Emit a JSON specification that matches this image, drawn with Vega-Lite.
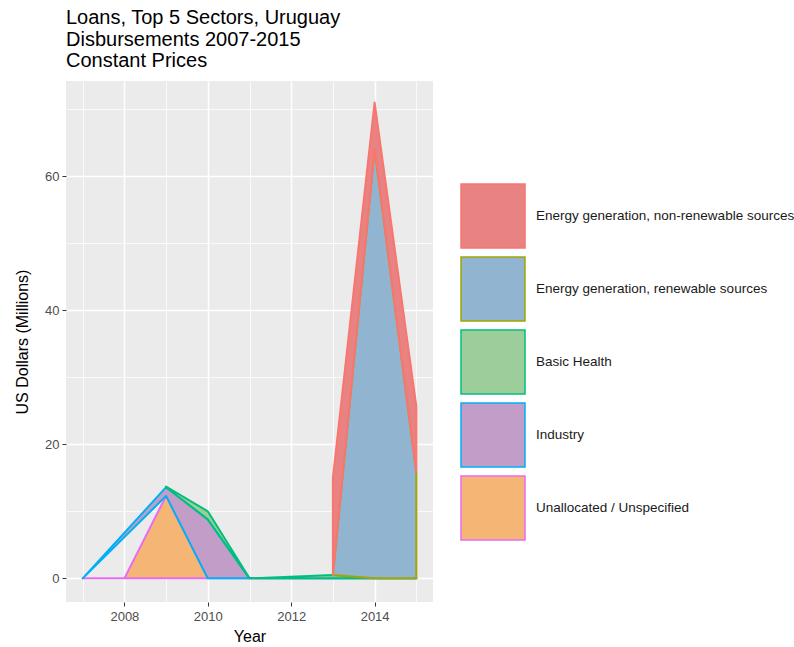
{
  "$schema": "https://vega.github.io/schema/vega-lite/v6.json",
  "width": 367,
  "height": 521,
  "autosize": "none",
  "padding": {"left": 66, "top": 81, "right": 361, "bottom": 45},
  "config": {
    "view": {"fill": "#EBEBEB", "stroke": null},
    "font": "Liberation Sans"
  },
  "title": {
    "text": ["Loans, Top 5 Sectors, Uruguay", "Disbursements 2007-2015", "Constant Prices"],
    "anchor": "start",
    "frame": "group",
    "fontSize": 20,
    "fontWeight": "normal",
    "lineHeight": 21.5,
    "color": "#000000",
    "offset": 10
  },
  "data": {
    "values": [
      {"sector": "Unallocated / Unspecified", "rank": 1, "year": 2007, "value": 0},
      {"sector": "Unallocated / Unspecified", "rank": 1, "year": 2008, "value": 0},
      {"sector": "Unallocated / Unspecified", "rank": 1, "year": 2009, "value": 12.3},
      {"sector": "Unallocated / Unspecified", "rank": 1, "year": 2010, "value": 0},
      {"sector": "Unallocated / Unspecified", "rank": 1, "year": 2011, "value": 0},
      {"sector": "Unallocated / Unspecified", "rank": 1, "year": 2013, "value": 0},
      {"sector": "Unallocated / Unspecified", "rank": 1, "year": 2014, "value": 0},
      {"sector": "Unallocated / Unspecified", "rank": 1, "year": 2015, "value": 0},
      {"sector": "Industry", "rank": 2, "year": 2007, "value": 0},
      {"sector": "Industry", "rank": 2, "year": 2009, "value": 1.3},
      {"sector": "Industry", "rank": 2, "year": 2010, "value": 8.8},
      {"sector": "Industry", "rank": 2, "year": 2011, "value": 0},
      {"sector": "Industry", "rank": 2, "year": 2013, "value": 0},
      {"sector": "Industry", "rank": 2, "year": 2014, "value": 0},
      {"sector": "Industry", "rank": 2, "year": 2015, "value": 0},
      {"sector": "Basic Health", "rank": 3, "year": 2009, "value": 0.1},
      {"sector": "Basic Health", "rank": 3, "year": 2010, "value": 1.2},
      {"sector": "Basic Health", "rank": 3, "year": 2011, "value": 0},
      {"sector": "Basic Health", "rank": 3, "year": 2013, "value": 0.5},
      {"sector": "Basic Health", "rank": 3, "year": 2014, "value": 0},
      {"sector": "Basic Health", "rank": 3, "year": 2015, "value": 0},
      {"sector": "Energy generation, renewable sources", "rank": 4, "year": 2013, "value": 0},
      {"sector": "Energy generation, renewable sources", "rank": 4, "year": 2014, "value": 64.0},
      {"sector": "Energy generation, renewable sources", "rank": 4, "year": 2015, "value": 15.8},
      {"sector": "Energy generation, non-renewable sources", "rank": 5, "year": 2013, "value": 14.5},
      {"sector": "Energy generation, non-renewable sources", "rank": 5, "year": 2014, "value": 7.0},
      {"sector": "Energy generation, non-renewable sources", "rank": 5, "year": 2015, "value": 9.9}
    ]
  },
  "layer": [
    {
      "transform": [
        {"stack": "value", "groupby": ["year"], "sort": [{"field": "rank", "order": "ascending"}], "as": ["base", "top"]}
      ],
      "mark": {"type": "area", "strokeWidth": 2, "interpolate": "linear", "strokeJoin": "round"},
      "encoding": {
        "x": {
          "field": "year", "type": "quantitative",
          "scale": {"domain": [2006.6, 2015.4], "nice": false, "zero": false},
          "axis": {
            "values": [2008, 2010, 2012, 2014], "format": "d",
            "labelFontSize": 13, "labelColor": "#4D4D4D", "labelPadding": 4,
            "tickColor": "#333333", "tickSize": 4, "domain": false,
            "grid": true, "gridColor": "#FFFFFF", "gridWidth": 1.5,
            "title": "Year", "titleFontSize": 16, "titleFontWeight": "normal", "titleColor": "#000000", "titlePadding": 5
          }
        },
        "y": {
          "field": "top", "type": "quantitative", "stack": null,
          "scale": {"domain": [-3.53, 74.2], "nice": false, "zero": false},
          "axis": {
            "values": [0, 20, 40, 60],
            "labelFontSize": 13, "labelColor": "#4D4D4D", "labelPadding": 3,
            "tickColor": "#333333", "tickSize": 4, "domain": false,
            "grid": true, "gridColor": "#FFFFFF", "gridWidth": 1.5,
            "title": "US Dollars (Millions)", "titleFontSize": 16, "titleFontWeight": "normal", "titleColor": "#000000", "titlePadding": 14
          }
        },
        "y2": {"field": "base"},
        "fill": {
          "field": "sector", "type": "nominal",
          "scale": {
            "domain": ["Energy generation, non-renewable sources", "Energy generation, renewable sources", "Basic Health", "Industry", "Unallocated / Unspecified"],
            "range": ["#E88283", "#91B4D1", "#9CCD9A", "#C29DC7", "#F5B575"]
          },
          "legend": {
            "title": null, "orient": "none", "legendX": 394, "legendY": 102,
            "symbolType": "square", "symbolSize": 4096, "symbolStrokeWidth": 1.5,
            "labelFontSize": 13.5, "labelColor": "#1A1A1A", "labelOffset": 10, "rowPadding": 3, "labelLimit": 400
          }
        },
        "stroke": {
          "field": "sector", "type": "nominal",
          "scale": {
            "domain": ["Energy generation, non-renewable sources", "Energy generation, renewable sources", "Basic Health", "Industry", "Unallocated / Unspecified"],
            "range": ["#F8766D", "#A3A500", "#00BF7D", "#00B0F6", "#E76BF3"]
          },
          "legend": {
            "title": null, "orient": "none", "legendX": 394, "legendY": 102,
            "symbolType": "square", "symbolSize": 4096, "symbolStrokeWidth": 1.5,
            "labelFontSize": 13.5, "labelColor": "#1A1A1A", "labelOffset": 10, "rowPadding": 3, "labelLimit": 400
          }
        }
      }
    },
    {
      "mark": {"type": "point", "opacity": 0},
      "encoding": {
        "x": {
          "field": "year", "type": "quantitative",
          "axis": {"orient": "top", "values": [2007, 2009, 2011, 2013, 2015], "labels": false, "ticks": false, "domain": false, "grid": true, "gridColor": "#FFFFFF", "gridWidth": 0.75, "title": null}
        },
        "y": {
          "field": "value", "type": "quantitative",
          "axis": {"orient": "right", "values": [10, 30, 50, 70], "labels": false, "ticks": false, "domain": false, "grid": true, "gridColor": "#FFFFFF", "gridWidth": 0.75, "title": null}
        }
      }
    }
  ],
  "resolve": {"axis": {"x": "independent", "y": "independent"}}
}
